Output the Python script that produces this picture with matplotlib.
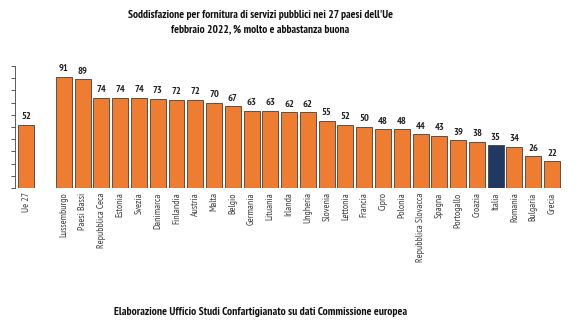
import matplotlib.pyplot as plt
import numpy as np
from matplotlib import font_manager

# dati
paesi = ['Ue 27', 'Lussemburgo', 'Paesi Bassi', 'Repubblica Ceca', 'Estonia', 'Svezia',
         'Danimarca', 'Finlandia', 'Austria', 'Malta', 'Belgio', 'Germania', 'Lituania',
         'Irlanda', 'Ungheria', 'Slovenia', 'Lettonia', 'Francia', 'Cipro', 'Polonia',
         'Repubblica Slovacca', 'Spagna', 'Portogallo', 'Croazia', 'Italia', 'Romania',
         'Bulgaria', 'Grecia']
valori = [52, 91, 89, 74, 74, 74, 73, 72, 72, 70, 67, 63, 63, 62, 62, 55, 52, 50, 48, 48,
          44, 43, 39, 38, 35, 34, 26, 22]

# font stretto tipo Arial Narrow, se c'e'
file_font = {f.fname.split('/')[-1]: f.fname for f in font_manager.fontManager.ttflist}
def cerca(nomi):
    for n in nomi:
        if n in file_font:
            return file_font[n]
    return None

reg = cerca(['PT_Sans-Narrow-Web-Regular.ttf', 'PTSansNarrow-Regular.ttf', 'LiberationSansNarrow-Regular.ttf'])
bld = cerca(['PT_Sans-Narrow-Web-Bold.ttf', 'PTSansNarrow-Bold.ttf', 'LiberationSansNarrow-Bold.ttf'])
plt.rcParams['font.family'] = ['Liberation Sans', 'DejaVu Sans']
if reg and bld:
    fp = font_manager.FontProperties(fname=reg)
    fpb = font_manager.FontProperties(fname=bld)
    k = 1.0
else:
    fp = font_manager.FontProperties(family='Liberation Sans')
    fpb = font_manager.FontProperties(family='Liberation Sans', weight='bold')
    k = 0.8

fig = plt.figure(figsize=(5.8, 3.26), dpi=100)
ax = fig.add_axes([0.026, 0.423, 0.945, 0.375])

# Ue 27 separata dagli altri con uno spazio vuoto
pos = np.array([0] + [i + 1 for i in range(1, len(paesi))])
colori = ['#1F3864' if p == 'Italia' else '#EE7D31' for p in paesi]

ax.bar(pos, valori, width=0.85, color=colori, edgecolor='#404040', linewidth=0.6)
for x, v in zip(pos, valori):
    t = ax.text(x, v + 3, str(v), ha='center', va='bottom', color='#222222', fontproperties=fpb)
    t.set_fontsize(7.5 * k)

ax.set_xlim(-0.6, 28.6)
ax.set_ylim(0, 100)
ax.set_yticks(np.arange(0, 101, 10))
ax.set_yticklabels([])
ax.tick_params(axis='y', length=3, width=0.6, color='#404040')
ax.set_xticks(pos)
ax.set_xticklabels(paesi, rotation=90, color='#404040', fontproperties=fp)
for lab in ax.get_xticklabels():
    lab.set_fontsize(7 * k)
ax.tick_params(axis='x', length=0, pad=3)
for s in ['top', 'right', 'bottom']:
    ax.spines[s].set_visible(False)
ax.spines['left'].set_color('#404040')
ax.spines['left'].set_linewidth(0.6)

for y, s, fs in [(0.954, "Soddisfazione per fornitura di servizi pubblici nei 27 paesi dell'Ue", 8.2),
                 (0.911, "febbraio 2022, % molto e abbastanza buona", 8.2),
                 (0.043, "Elaborazione Ufficio Studi Confartigianato su dati Commissione europea", 8.3)]:
    t = fig.text(0.449, y, s, ha='center', va='center', color='#111111', fontproperties=fpb)
    t.set_fontsize(fs * k)

fig.savefig('out.png', dpi=100)
